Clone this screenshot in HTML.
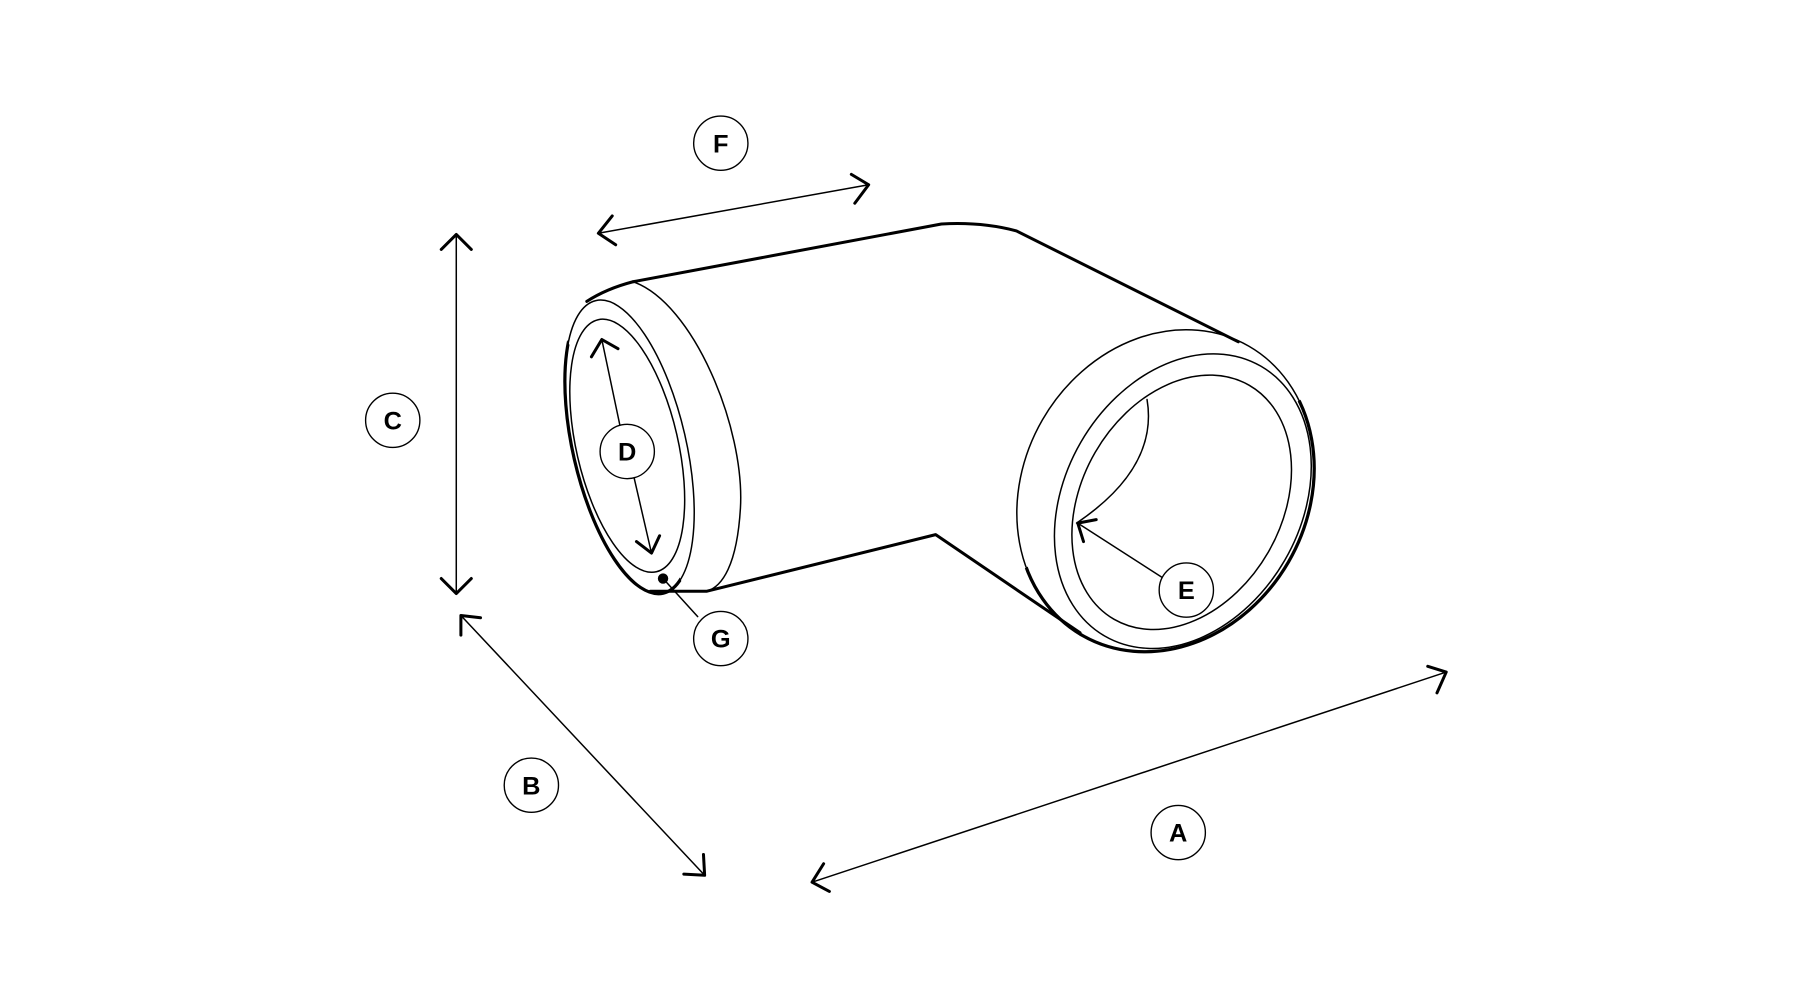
<!DOCTYPE html>
<html><head><style>
html,body{margin:0;padding:0;background:#fff;}
svg{display:block;}
text{font-family:"Liberation Sans",sans-serif;font-weight:bold;font-size:22px;text-anchor:middle;dominant-baseline:central;}
</style></head><body>
<svg width="1802" height="1000" viewBox="0 0 1560 866" preserveAspectRatio="none" xmlns="http://www.w3.org/2000/svg">
<defs>
<clipPath id="cl"><polygon points="400,150 512,150 508,261 563,512 563,650 400,650"/></clipPath>
<clipPath id="cr"><polygon points="1060,200 1300,200 1300,650 920,650 935,548 1072,296"/></clipPath>
</defs>
<g fill="none" stroke="#000" stroke-linecap="round" stroke-linejoin="round">
<!-- body thick outline -->
<path d="M548,244 L815,194 Q850,192 880,200 L1072,296" stroke-width="2.6"/>
<path d="M935,548 L810,463 L612,512 L563,512" stroke-width="2.6"/>
<path d="M548,244 Q525,250 508,261" stroke-width="2.6"/>
<!-- left rim (visible right half) -->
<path d="M548,244 C600,262 645,370 641,440 C638,490 625,508 612,512" stroke-width="1.3"/>
<!-- left face -->
<ellipse cx="545" cy="387" rx="49" ry="130" transform="rotate(-13 545 387)" stroke-width="1.3"/>
<ellipse cx="545" cy="387" rx="49" ry="130" transform="rotate(-13 545 387)" stroke-width="2.8" clip-path="url(#cl)"/>
<ellipse cx="543" cy="386" rx="44" ry="112" transform="rotate(-13 543 386)" stroke-width="1.3"/>
<!-- right end -->
<ellipse cx="1009" cy="425" rx="123" ry="144.5" transform="rotate(30 1009 425)" stroke-width="1.3"/>
<ellipse cx="1009" cy="425" rx="123" ry="144.5" transform="rotate(30 1009 425)" stroke-width="2.8" clip-path="url(#cr)"/>
<ellipse cx="1024" cy="434" rx="102" ry="135" transform="rotate(30 1024 434)" stroke-width="1.3"/>
<ellipse cx="1023" cy="435" rx="86.5" ry="117" transform="rotate(30 1023 435)" stroke-width="1.3"/>
<path d="M993,346 Q1003,405 932,453" stroke-width="1.3"/>
<!-- F arrow -->
<path d="M518,202 L752,160" stroke-width="1.3"/>
<path d="M530,187 L518,202 L533,212" stroke-width="2.6"/>
<path d="M737,151 L752,160 L740,176" stroke-width="2.6"/>
<!-- C arrow -->
<path d="M395,203 L395,514" stroke-width="1.3"/>
<path d="M382,216 L395,203 L408,216" stroke-width="2.6"/>
<path d="M382,501 L395,514 L408,501" stroke-width="2.6"/>
<!-- D arrow -->
<path d="M521,294 L537,370 M549,414 L564,479" stroke-width="1.3"/>
<path d="M512,309 L521,294 L535,302" stroke-width="2.6"/>
<path d="M551,469 L564,479 L571,464" stroke-width="2.6"/>
<!-- B arrow -->
<path d="M399,533 L610,758" stroke-width="1.3"/>
<path d="M399,550 L399,533 L416,535" stroke-width="2.6"/>
<path d="M592,757 L610,758 L609,740" stroke-width="2.6"/>
<!-- A arrow -->
<path d="M703,764 L1252,582" stroke-width="1.3"/>
<path d="M713,748 L703,764 L718,772" stroke-width="2.6"/>
<path d="M1236,577 L1252,582 L1244,600" stroke-width="2.6"/>
<!-- E arrow -->
<path d="M933,453 L1006,500" stroke-width="1.3"/>
<path d="M938,469 L933,453 L949,450" stroke-width="2.6"/>
<!-- G leader -->
<path d="M574,501 L604,534" stroke-width="1.3"/>
</g>
<circle cx="574" cy="501" r="4.5" fill="#000"/>
<g fill="#fff" stroke="#000" stroke-width="1.2">
<circle cx="624" cy="124" r="23.5"/>
<circle cx="340" cy="364" r="23.5"/>
<circle cx="543" cy="391" r="23.5"/>
<circle cx="624" cy="553" r="23.5"/>
<circle cx="460" cy="680" r="23.5"/>
<circle cx="1020" cy="721" r="23.5"/>
<circle cx="1027" cy="511" r="23.5"/>
</g>
<text x="624" y="125">F</text>
<text x="340" y="365">C</text>
<text x="543" y="392">D</text>
<text x="624" y="554">G</text>
<text x="460" y="681">B</text>
<text x="1020" y="722">A</text>
<text x="1027" y="512">E</text>
</svg>
</body></html>
